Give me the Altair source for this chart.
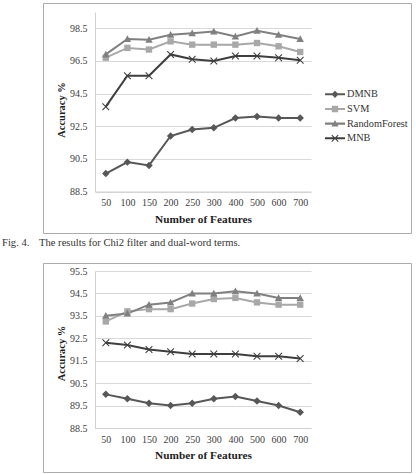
import altair as alt
import pandas as pd

# ---------------- data ----------------
features = [50, 100, 150, 200, 250, 300, 400, 500, 600, 700]
series = ["DMNB", "SVM", "RandomForest", "MNB"]

# Fig. 4 (Chi2 filter, dual-word terms)
top_dmnb = [89.6, 90.3, 90.1, 91.9, 92.3, 92.4, 93.0, 93.1, 93.0, 93.0]
top_svm = [96.7, 97.3, 97.2, 97.7, 97.5, 97.5, 97.5, 97.6, 97.4, 97.05]
top_rf = [96.9, 97.85, 97.8, 98.1, 98.2, 98.3, 98.0, 98.35, 98.1, 97.85]
top_mnb = [93.7, 95.6, 95.6, 96.9, 96.6, 96.5, 96.8, 96.8, 96.7, 96.55]

# second figure
bot_dmnb = [90.0, 89.8, 89.6, 89.5, 89.6, 89.8, 89.9, 89.7, 89.5, 89.2]
bot_svm = [93.25, 93.7, 93.8, 93.8, 94.05, 94.25, 94.3, 94.1, 94.0, 94.0]
bot_rf = [93.5, 93.6, 94.0, 94.1, 94.5, 94.5, 94.6, 94.5, 94.3, 94.3]
bot_mnb = [92.3, 92.2, 92.0, 91.9, 91.8, 91.8, 91.8, 91.7, 91.7, 91.6]

top_ticks = [88.5, 90.5, 92.5, 94.5, 96.5, 98.5]
bot_ticks = [88.5, 89.5, 90.5, 91.5, 92.5, 93.5, 94.5, 95.5]

caption_fig = "Fig. 4."
caption_text = "The results for Chi2 filter and dual-word terms."
x_title = "Number of Features"
y_title = "Accuracy %"

# ---------------- style ----------------
FONT = "Liberation Serif, Times New Roman, serif"
colors = ["#575757", "#a8a8a8", "#808080", "#3e3e3e"]

marker_paths = [
    "M0,-1L1,0L0,1L-1,0Z",
    "M-0.85,-0.85H0.85V0.85H-0.85Z",
    "M0,-1L1,0.8H-1Z",
    "M-1,-0.8L-0.8,-1L0,-0.2L0.8,-1L1,-0.8L0.2,0L1,0.8L0.8,1L0,0.2L-0.8,1L-1,0.8L-0.2,0Z",
]
LINE = "M-1.25,-0.13H1.25V0.13H-1.25Z "
legend_paths = [
    LINE + "M0,-0.45L0.45,0L0,0.45L-0.45,0Z",
    LINE + "M-0.4,-0.4H0.4V0.4H-0.4Z",
    LINE + "M0,-0.45L0.45,0.36H-0.45Z",
    LINE + "M-0.45,-0.36L-0.36,-0.45L0,-0.09L0.36,-0.45L0.45,-0.36L0.09,0L0.45,0.36L0.36,0.45L0,0.09L-0.36,0.45L-0.45,0.36L-0.09,0Z",
]


def long_df(vals):
    rows = []
    for s, v in zip(series, vals):
        for f, a in zip(features, v):
            rows.append({"features": f, "acc": a, "series": s})
    return pd.DataFrame(rows)


def panel(vals, domain, ticks, height, title_y, legend_y, box, with_caption):
    df = long_df(vals)
    x = alt.X(
        "features:O",
        sort=features,
        scale=alt.Scale(type="point", padding=0.5),
        axis=alt.Axis(
            title=x_title, grid=False, ticks=False, labelAngle=0,
            labelPadding=6, titleFontSize=11.3, titleY=27.5,
            titleBaseline="middle", domainColor="#d0d0d0",
        ),
    )
    y = alt.Y(
        "acc:Q",
        scale=alt.Scale(domain=domain, nice=False, zero=False),
        axis=alt.Axis(
            values=ticks, format=".1f", title=y_title, ticks=False,
            labelPadding=8, titleFontSize=10.5, titleX=-34, titleY=title_y,
            titleAngle=270, titleAlign="center", titleBaseline="middle",
            grid=True, gridColor="#d9d9d9", domainColor="#d0d0d0",
        ),
    )
    leg = alt.Legend(
        title=None, orient="none", legendX=232, legendY=legend_y,
        symbolSize=256, symbolOpacity=1, symbolStrokeWidth=0,
        labelFont=FONT, labelFontSize=10.3, labelColor="#333333",
        labelOffset=4, rowPadding=0.67, padding=0,
    )
    one = pd.DataFrame({"k": [0]})
    layers = [
        alt.Chart(one).mark_rect(fillOpacity=0, stroke="#ababab", strokeWidth=1).encode(
            x=alt.value(-51.5), x2=alt.value(316.5),
            y=alt.value(box[0]), y2=alt.value(box[1]),
        ),
        alt.Chart(df).mark_point(filled=True, opacity=0).encode(
            x=x, y=y,
            color=alt.Color("series:N", scale=alt.Scale(domain=series, range=colors), legend=leg),
            shape=alt.Shape("series:N", scale=alt.Scale(domain=series, range=legend_paths), legend=leg),
        ),
    ]
    for s, c in zip(series, colors):
        layers.append(
            alt.Chart(df).transform_filter(alt.datum.series == s)
            .mark_line(color=c, strokeWidth=2).encode(x=x, y=y)
        )
    for s, c, m in zip(series, colors, marker_paths):
        layers.append(
            alt.Chart(df).transform_filter(alt.datum.series == s)
            .mark_point(shape=m, filled=True, color=c, size=56, opacity=1).encode(x=x, y=y)
        )
    if with_caption:
        layers.append(
            alt.Chart(one).mark_text(
                text=caption_fig, align="left", baseline="middle",
                font=FONT, fontSize=10.6, color="#333333",
            ).encode(x=alt.value(-93), y=alt.value(230.5))
        )
        layers.append(
            alt.Chart(one).mark_text(
                text=caption_text, align="left", baseline="middle",
                font=FONT, fontSize=10.6, color="#333333",
            ).encode(x=alt.value(-56), y=alt.value(230.5))
        )
    return alt.layer(*layers).properties(width=216, height=height)


top = panel([top_dmnb, top_svm, top_rf, top_mnb], [88.5, 99.5], top_ticks,
            179.5, 97.5, 74.3, (-8.5, 221.5), True)
bottom = panel([bot_dmnb, bot_svm, bot_rf, bot_mnb], [88.5, 95.5], bot_ticks,
               157, 82, 63, (-7.5, 201.5), False)

chart = (
    alt.vconcat(top, bottom, spacing=14)
    .properties(padding={"left": 2, "top": 3, "right": 0, "bottom": 0}, background="white")
    .configure_view(strokeWidth=0)
    .configure_axis(
        labelFont=FONT, labelFontSize=10, labelColor="#404040",
        titleFont=FONT, titleFontWeight="bold", titleColor="#1e1e1e",
    )
)

chart.save("out.html", embed_options={"renderer": "svg", "actions": False})
